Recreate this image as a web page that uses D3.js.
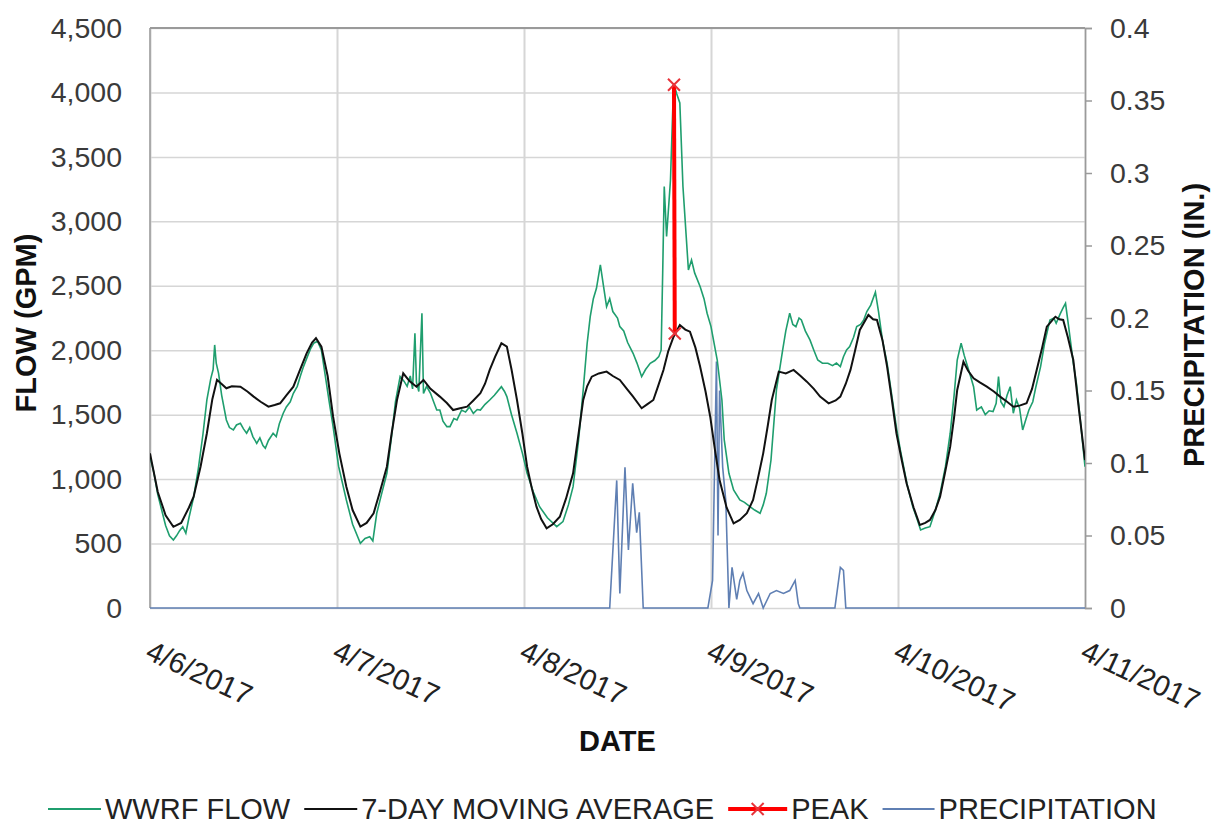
<!DOCTYPE html>
<html><head><meta charset="utf-8">
<script src="https://cdn.jsdelivr.net/npm/d3@7"></script>
<style>body{margin:0;background:#fff}text{font-family:"Liberation Sans",Arial,sans-serif}</style>
</head><body><svg id="c" width="1219" height="827"></svg>
<script>
// ---------- DATA ----------
const dateLabels = ["4/6/2017","4/7/2017","4/8/2017","4/9/2017","4/10/2017","4/11/2017"];
const dayHours = [0,24,48,72,96,120];
const flowTicks = [0,500,1000,1500,2000,2500,3000,3500,4000,4500];
const precipTicks = [0,0.05,0.1,0.15,0.2,0.25,0.3,0.35,0.4];

// WWRF flow (hours since 4/6/2017 00:00, GPM)
const flowHours = [0,0.5,1,1.5,2,2.5,3,3.4,3.8,4.2,4.6,5,5.6,6.2,6.8,7.3,7.8,8.1,8.3,8.5,8.8,9.2,9.8,10.2,10.7,11.1,11.6,12,12.4,12.8,13.2,13.7,14.1,14.5,14.8,15.2,15.8,16.2,16.6,17.1,17.5,18,18.4,18.9,19.3,19.7,20.2,20.6,21,21.5,22,22.6,23,23.5,24.2,25.2,26,27,27.6,28.2,28.6,29.1,29.7,30.4,31,31.5,32.1,32.6,33,33.4,33.7,34,34.2,34.5,34.9,35.1,35.5,36,36.4,36.8,37.2,37.6,38.1,38.5,39,39.4,40,40.5,41,41.5,42,42.4,43,43.6,44.2,45.1,45.5,45.8,46.4,47.1,47.8,48.4,49.2,50,51,52.2,53,53.7,54.3,55,55.6,56.1,56.5,56.9,57.3,57.8,58.2,58.6,59,59.4,60,60.3,60.8,61.3,62,62.5,63.1,63.6,64.2,64.8,65.3,65.6,65.8,66,66.3,66.8,67.2,67.6,68,68.4,68.8,69.1,69.5,69.9,70.6,71.1,71.5,72,72.8,73.4,73.7,74.3,74.9,75.7,76.3,77,77.6,78.3,78.7,79.1,79.7,80.4,81.2,81.6,82.1,82.5,82.9,83.3,83.6,84.1,84.7,85.2,85.7,86.3,87,87.6,88.1,88.6,89,89.4,89.8,90.3,90.7,91.2,91.6,92,92.5,93.1,93.5,94,94.6,95.1,95.8,96.3,97.2,97.9,98.5,98.9,99.5,100.1,100.8,101.4,102.1,102.7,103.2,103.6,104.1,104.5,104.8,105.3,105.7,106.1,106.7,107.2,107.7,108.2,108.6,108.9,109.2,109.6,110,110.4,110.8,111.2,111.6,112,112.4,112.8,113.3,113.7,114.3,114.8,115.5,116,116.3,116.8,117.2,117.5,117.9,118.5,118.9,119.5,120];
const flowValues = [1174,1050,880,760,640,560,528,560,600,631,580,700,860,1080,1350,1614,1780,1850,2041,1900,1821,1650,1459,1400,1381,1420,1433,1390,1356,1400,1330,1278,1320,1260,1239,1300,1356,1330,1430,1511,1560,1600,1666,1720,1800,1873,1950,2010,2054,2070,2000,1760,1600,1407,1100,838,650,502,540,553,520,735,880,1045,1330,1600,1795,1760,1720,1800,1700,2132,1750,1680,2287,1665,1720,1666,1600,1536,1536,1450,1407,1407,1470,1459,1536,1520,1560,1510,1540,1536,1580,1614,1650,1717,1680,1640,1500,1356,1200,1045,900,786,700,631,670,800,941,1300,1692,2050,2260,2400,2480,2662,2500,2338,2400,2300,2250,2183,2150,2060,1976,1900,1795,1850,1899,1920,1950,2000,2600,3270,2882,3321,4072,3990,3918,3270,2900,2623,2700,2600,2494,2400,2287,2183,1924,1614,1304,1045,916,838,820,786,760,735,800,890,1148,1692,2002,2150,2287,2200,2183,2250,2235,2150,2080,2000,1924,1900,1899,1880,1900,1873,1950,2002,2028,2100,2183,2200,2235,2300,2350,2450,2300,2080,1900,1692,1400,1226,950,786,680,605,620,631,760,890,1100,1356,1650,1924,2054,1960,1899,1800,1717,1536,1560,1500,1530,1524,1588,1795,1600,1562,1650,1717,1511,1614,1550,1381,1460,1536,1600,1717,1873,2050,2235,2250,2209,2280,2330,2364,2183,1900,1743,1400,1096];

// 7-day moving average (GPM)
const avgHours = [0,1,2,3,4,5,5.6,6.5,7.3,8,8.6,9.8,10.5,11.6,12.5,13.3,14.2,15.2,16,16.7,17.5,18.4,19.2,20.1,20.8,21.3,22,22.8,23.5,24.3,25.2,26,27,27.8,28.7,29.5,30.4,31,31.7,32.5,33.3,34.2,35.1,36,37.2,38.1,38.9,39.8,40.7,41.5,42.4,43,43.6,44.3,45.1,45.8,46.4,47.1,47.8,48.4,49,49.6,50.2,50.9,51.7,52.6,53.4,54.3,55,55.6,56.1,56.7,57.6,58.6,59.4,60.3,61.2,62,63.1,63.8,64.6,65.2,65.9,66.5,67.2,68,68.7,69.3,70,70.6,71.3,71.9,72.5,73.1,74,74.9,75.7,76.6,77.4,78,78.7,79.3,79.8,80.7,81.6,82.6,83.5,84.3,85.2,86,87.1,88,88.6,89.3,89.9,90.5,91.1,92.2,92.8,93.3,94,94.6,95.2,95.8,96.5,97.1,98,98.8,99.5,100.1,100.8,101.4,102,102.7,103.2,103.6,104.4,105,105.7,106.5,107.4,108.3,109.1,110,110.8,111.6,112.5,113.2,113.8,114.5,115.1,116.2,116.7,117.2,117.8,118.5,119.2,120];
const avgValues = [1200,900,720,630,660,780,864,1100,1356,1620,1770,1705,1720,1717,1680,1640,1600,1562,1575,1588,1650,1717,1840,1976,2060,2093,2028,1800,1484,1200,941,760,631,660,735,900,1096,1350,1614,1821,1760,1717,1769,1700,1640,1590,1536,1550,1562,1610,1666,1740,1847,1950,2054,2028,1850,1614,1350,1096,930,786,690,618,650,708,850,1045,1350,1614,1720,1795,1820,1834,1800,1769,1700,1640,1550,1580,1614,1720,1847,1990,2105,2196,2160,2144,2020,1873,1680,1484,1230,993,780,657,683,735,838,1000,1200,1420,1614,1834,1820,1847,1800,1756,1700,1640,1588,1610,1640,1740,1847,2000,2157,2274,2240,2235,2080,1873,1620,1356,1140,968,780,644,660,683,760,864,1040,1252,1480,1692,1911,1840,1782,1750,1717,1680,1640,1600,1562,1570,1588,1700,1847,2020,2183,2260,2240,2235,2100,1924,1550,1148];

// Peak (GPM)
const peakHours = [67.25, 67.35];
const peakValues = [4060, 2130];

// Precipitation (inches)
const precipHours = [0,59.0,59.9,60.3,60.96,61.4,61.95,62.46,62.8,63.3,71.6,72.2,72.7,72.9,73.1,73.5,73.9,74.3,74.7,75.3,75.7,76.1,76.6,77.4,78.1,78.7,79.6,80.4,81.3,82.1,82.8,83.2,83.4,87.9,88.6,89.0,89.3,120];
const precipValues = [0,0,0.088,0.01,0.097,0.04,0.086,0.052,0.066,0,0,0.019,0.17,0.05,0.15,0.097,0.074,0,0.028,0.006,0.019,0.024,0.012,0.003,0.01,0,0.01,0.012,0.01,0.012,0.019,0.003,0,0,0.028,0.026,0,0];

// ---------- CHART ----------
const L=150,R=1085,T=28,B=608;
const FONT="'Liberation Sans',Arial,sans-serif";
const svg = d3.select("#c");
svg.append("rect").attr("width",1219).attr("height",827).attr("fill","#fff");
const x = d3.scaleLinear().domain([0,120]).range([L,R]);
const yF = d3.scaleLinear().domain([0,4500]).range([B,T]);
const yP = d3.scaleLinear().domain([0,0.4]).range([B,T]);

// gridlines
const gy = svg.append("g").attr("transform",`translate(${L},0)`)
  .call(d3.axisLeft(yF).tickValues(flowTicks).tickSize(-(R-L)).tickFormat(""));
gy.select(".domain").remove();
gy.selectAll("line").attr("stroke","#d6d6d6").attr("stroke-width",1.5);
const gx = svg.append("g").attr("transform",`translate(0,${B})`)
  .call(d3.axisBottom(x).tickValues(dayHours).tickSize(-(B-T)).tickFormat(""));
gx.select(".domain").remove();
gx.selectAll("line").attr("stroke","#d6d6d6").attr("stroke-width",2);

// frame
svg.append("line").attr("x1",L).attr("x2",R).attr("y1",T).attr("y2",T).attr("stroke","#9a9a9a").attr("stroke-width",2);
svg.append("line").attr("x1",L).attr("x2",L).attr("y1",T).attr("y2",B).attr("stroke","#9a9a9a").attr("stroke-width",1.5);

// left axis labels
const ax = svg.append("g").attr("transform",`translate(${L},0)`)
  .call(d3.axisLeft(yF).tickValues(flowTicks).tickSize(0).tickPadding(28).tickFormat(d3.format(",")));
ax.select(".domain").remove();
ax.selectAll("text").attr("font-size",28.5).attr("fill","#3a3a3a").style("font-family",FONT);

// right axis
const ar = svg.append("g").attr("transform",`translate(${R},0)`)
  .call(d3.axisRight(yP).tickValues(precipTicks).tickSize(7).tickPadding(18).tickFormat(d=>String(+d.toFixed(2))));
ar.select(".domain").attr("stroke","#9a9a9a").attr("stroke-width",1.5);
ar.selectAll("line").attr("stroke","#9a9a9a").attr("stroke-width",1.5);
ar.selectAll("text").attr("font-size",28.5).attr("fill","#3a3a3a").style("font-family",FONT);

// x labels
svg.append("g").selectAll("text").data(dayHours).join("text")
  .attr("transform",(d)=>`translate(${x(d)-6},${B+50}) rotate(25)`)
  .attr("font-size",29).attr("fill","#222").text((d,i)=>dateLabels[i]);

// series
svg.append("clipPath").attr("id","clipP").append("rect").attr("x",L).attr("y",T-20).attr("width",R-L).attr("height",B-T+22);
const plot = svg.append("g").attr("clip-path","url(#clipP)");

plot.append("path").datum(precipHours.map((h,i)=>[h,precipValues[i]]))
  .attr("d",d3.line().x(d=>x(d[0])).y(d=>yP(d[1])))
  .attr("fill","none").attr("stroke","#5f7fb3").attr("stroke-width",1.6);

plot.append("path").datum(flowHours.map((h,i)=>[h,flowValues[i]]))
  .attr("d",d3.line().x(d=>x(d[0])).y(d=>yF(d[1])))
  .attr("fill","none").attr("stroke","#1f9e6e").attr("stroke-width",1.6);

plot.append("path").datum(avgHours.map((h,i)=>[h,avgValues[i]]))
  .attr("d",d3.line().x(d=>x(d[0])).y(d=>yF(d[1])))
  .attr("fill","none").attr("stroke","#111").attr("stroke-width",2);

const peakPts = peakHours.map((h,i)=>[h,peakValues[i]]);
plot.append("path").datum(peakPts)
  .attr("d",d3.line().x(d=>x(d[0])).y(d=>yF(d[1])))
  .attr("fill","none").attr("stroke","#ff0000").attr("stroke-width",4);
plot.selectAll(".pk").data(peakPts).join("path")
  .attr("transform",d=>`translate(${x(d[0])},${yF(d[1])})`)
  .attr("d","M-6,-6L6,6M-6,6L6,-6").attr("stroke","#e8333a").attr("stroke-width",2);

// axis titles
svg.append("text").attr("transform",`translate(36,${(T+B)/2+5}) rotate(-90)`)
  .attr("text-anchor","middle").attr("font-size",29).attr("font-weight","bold").attr("fill","#111").text("FLOW (GPM)");
svg.append("text").attr("transform",`translate(1204,325) rotate(-90)`)
  .attr("text-anchor","middle").attr("font-size",29).attr("font-weight","bold").attr("fill","#111").text("PRECIPITATION (IN.)");
svg.append("text").attr("x",(L+R)/2).attr("y",751)
  .attr("text-anchor","middle").attr("font-size",29).attr("font-weight","bold").attr("fill","#111").text("DATE");

// legend
const legendItems = [
  {name:"WWRF FLOW", color:"#1f9e6e", w:1.8, marker:false, len:53},
  {name:"7-DAY MOVING AVERAGE", color:"#111", w:2.2, marker:false, len:53},
  {name:"PEAK", color:"#ff0000", w:4, marker:true, len:59},
  {name:"PRECIPITATION", color:"#5f7fb3", w:1.8, marker:false, len:52}
];
const lg = svg.append("g").attr("transform","translate(0,809)");
let cx = 48;
legendItems.forEach(it=>{
  lg.append("line").attr("x1",cx).attr("x2",cx+it.len).attr("y1",0).attr("y2",0).attr("stroke",it.color).attr("stroke-width",it.w);
  if(it.marker) lg.append("path").attr("transform",`translate(${cx+it.len/2},0)`).attr("d","M-6,-6L6,6M-6,6L6,-6").attr("stroke","#e8333a").attr("stroke-width",2);
  const t = lg.append("text").attr("x",cx+it.len+4).attr("y",10).attr("font-size",29).attr("fill","#222").text(it.name);
  cx += it.len + 4 + t.node().getComputedTextLength() + 14;
});
</script></body></html>
